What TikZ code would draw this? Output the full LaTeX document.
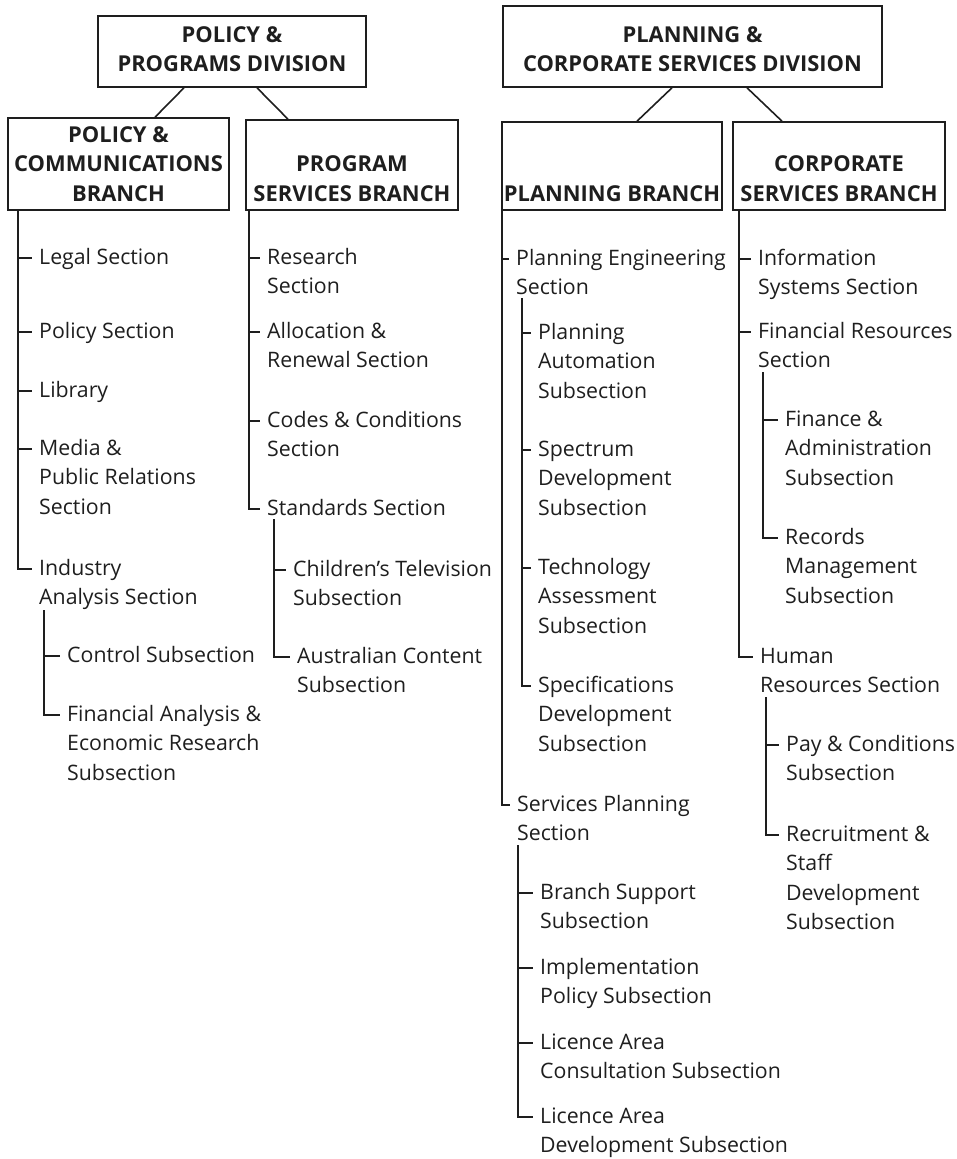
\documentclass[tikz,border=0pt]{standalone}
\usepackage{fontspec}
\setmainfont{Open Sans}
\definecolor{ink}{RGB}{30,30,30}
\newcommand\ls[1]{\begin{tabular}[t]{@{}l@{}}#1\end{tabular}}
\newcommand\ct[1]{\begin{tabular}[b]{@{}c@{}}#1\end{tabular}}
\tikzset{
  conn/.style={draw=ink, line width=1.6pt},
  box/.style={draw=ink, line width=1.6pt, rectangle, inner sep=0pt},
  item/.style={anchor=base west, inner sep=0pt, text=ink, font=\fontsize{21.3}{29.5}\selectfont},
  title/.style={anchor=base, inner sep=0pt, text=ink, font=\fontsize{21.9}{29.5}\selectfont\bfseries},
  toptitle/.style={title, font=\fontsize{21.9}{28.5}\selectfont\bfseries},
}
\newcommand\orgnode[4]{%
  \node[item] (#1) at (#2,#3+6) {\ls{#4}};
  \coordinate (#1-t) at ([yshift=6pt]#1.base west);}
\newcommand\tickto[2]{\draw[conn] (#2-t -| #1) -- ([xshift=-7pt]#2-t);}
\newcommand\elbow[2]{\draw[conn] (#1) |- ([xshift=-7pt]#2-t);}
\begin{document}
\begin{tikzpicture}[x=1pt,y=-1pt]
\useasboundingbox (0,0) rectangle (957,1159);
% boxes
\node[box, minimum width=268, minimum height=71] (b1) at (232,51.5) {};
\node[box, minimum width=221, minimum height=92] (b2) at (118.5,164) {};
\node[box, minimum width=212, minimum height=90] (b3) at (352,165) {};
\node[box, minimum width=379, minimum height=81] (b4) at (692.5,46.5) {};
\node[box, minimum width=220, minimum height=88] (b5) at (612,166) {};
\node[box, minimum width=212, minimum height=88] (b6) at (839,166) {};
% titles
\node[toptitle] (b1t) at (232,71) {\ct{POLICY \&\\PROGRAMS DIVISION}};
\node[title] (b2t) at (118.5,201) {\ct{POLICY \&\\COMMUNICATIONS\\BRANCH}};
\node[title] (b3t) at (352,201) {\ct{PROGRAM\\SERVICES BRANCH}};
\node[toptitle] (b4t) at (692.5,71) {\ct{PLANNING \&\\CORPORATE SERVICES DIVISION}};
\node[title] (b5t) at (612,201) {\ct{PLANNING BRANCH}};
\node[title] (b6t) at (839,201) {\ct{CORPORATE\\SERVICES BRANCH}};
% division connectors
\draw[conn] ([xshift=-48pt]b1.south) -- ([xshift=36.5pt]b2.north);
\draw[conn] ([xshift=25pt]b1.south) -- ([xshift=-64pt]b3.north);
\draw[conn] ([xshift=-20.5pt]b4.south) -- ([xshift=25pt]b5.north);
\draw[conn] ([xshift=54.5pt]b4.south) -- ([xshift=-57pt]b6.north);
% ---------- tree 1
\orgnode{legal}{39}{258}{Legal Section}
\orgnode{polsec}{39}{332}{Policy Section}
\orgnode{library}{39}{391}{Library}
\orgnode{media}{39}{449}{Media \&\\Public Relations\\Section}
\orgnode{industry}{39}{569}{Industry\\Analysis Section}
\orgnode{control}{67}{656}{Control Subsection}
\orgnode{finan}{67}{715}{Financial Analysis \&\\Economic Research\\Subsection}
\coordinate (v1) at ([xshift=11pt]b2.south west);
\elbow{v1}{industry}
\tickto{v1}{legal}\tickto{v1}{polsec}\tickto{v1}{library}\tickto{v1}{media}
\coordinate (v1a) at (44,610);
\elbow{v1a}{finan}
\tickto{v1a}{control}
% ---------- tree 2
\orgnode{research}{267}{258}{Research\\Section}
\orgnode{alloc}{267}{332}{Allocation \&\\Renewal Section}
\orgnode{codes}{267}{421}{Codes \& Conditions\\Section}
\orgnode{standards}{267}{509}{Standards Section}
\orgnode{children}{293}{570}{Children’s Television\\Subsection}
\orgnode{austr}{297}{657}{Australian Content\\Subsection}
\coordinate (v2) at ([xshift=4pt]b3.south west);
\elbow{v2}{standards}
\tickto{v2}{research}\tickto{v2}{alloc}\tickto{v2}{codes}
\coordinate (v2a) at (274,519);
\elbow{v2a}{austr}
\tickto{v2a}{children}
% ---------- tree 3
\orgnode{planeng}{516}{259}{Planning Engineering\\Section}
\orgnode{planaut}{538}{333}{Planning\\Automation\\Subsection}
\orgnode{spectrum}{538}{450}{Spectrum\\Development\\Subsection}
\orgnode{tech}{538}{568}{Technology\\Assessment\\Subsection}
\orgnode{specs}{538}{686}{Specifications\\Development\\Subsection}
\orgnode{servpl}{517}{805}{Services Planning\\Section}
\orgnode{branchsup}{540}{893}{Branch Support\\Subsection}
\orgnode{implpol}{540}{968}{Implementation\\Policy Subsection}
\orgnode{lac}{540}{1043}{Licence Area\\Consultation Subsection}
\orgnode{lad}{540}{1117}{Licence Area\\Development Subsection}
\coordinate (v3) at ([xshift=1pt]b5.south west);
\elbow{v3}{servpl}
\tickto{v3}{planeng}
\coordinate (v3a) at (522,298);
\elbow{v3a}{specs}
\tickto{v3a}{planaut}\tickto{v3a}{spectrum}\tickto{v3a}{tech}
\coordinate (v3b) at (518,845);
\elbow{v3b}{lad}
\tickto{v3b}{branchsup}\tickto{v3b}{implpol}\tickto{v3b}{lac}
% ---------- tree 4
\orgnode{infosys}{758}{259}{Information\\Systems Section}
\orgnode{finres}{758}{332}{Financial Resources\\Section}
\orgnode{finadm}{785}{420}{Finance \&\\Administration\\Subsection}
\orgnode{records}{785}{538}{Records\\Management\\Subsection}
\orgnode{human}{760}{657}{Human\\Resources Section}
\orgnode{pay}{786}{745}{Pay \& Conditions\\Subsection}
\orgnode{recruit}{786}{835}{Recruitment \&\\Staff\\Development\\Subsection}
\coordinate (v4) at ([xshift=7pt]b6.south west);
\elbow{v4}{human}
\tickto{v4}{infosys}\tickto{v4}{finres}
\coordinate (v4a) at (763,372);
\elbow{v4a}{records}
\tickto{v4a}{finadm}
\coordinate (v4b) at (766,697);
\elbow{v4b}{recruit}
\tickto{v4b}{pay}
\end{tikzpicture}
\end{document}
